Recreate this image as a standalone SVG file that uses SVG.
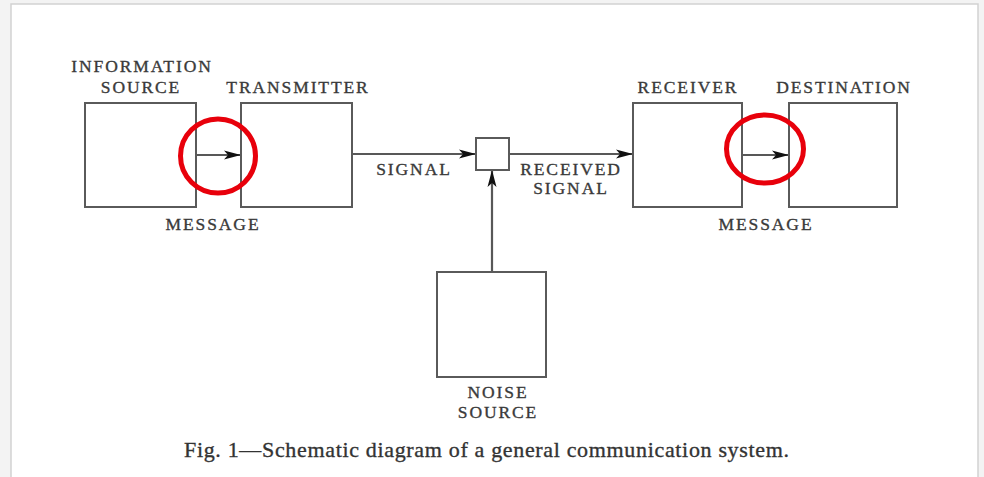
<svg xmlns="http://www.w3.org/2000/svg" width="984" height="477" viewBox="0 0 984 477">
<defs>
<style>
.box{fill:#fff;stroke:#5a5a5a;stroke-width:2}
.lbl{font-family:"Liberation Serif","Times New Roman",serif;font-size:17.5px;letter-spacing:1.9px;fill:#3a3a3a;stroke:#3a3a3a;stroke-width:0.35;text-anchor:middle}
.cap{font-family:"Liberation Serif","Times New Roman",serif;font-size:22px;fill:#333;stroke:#333;stroke-width:0.35}
.wire{stroke:#585858;stroke-width:2.2;fill:none;marker-end:url(#ah)}
.ring{fill:none;stroke:#e8000b;stroke-width:5}
</style>
<marker id="ah" markerUnits="userSpaceOnUse" markerWidth="18" markerHeight="12" refX="17" refY="6" orient="auto">
<path d="M0,1.5 L17,6 L0,10.5 L4,6 Z" fill="#111"/>
</marker>
</defs>
<rect x="0" y="0" width="984" height="477" fill="#f3f3f3"/>
<rect x="11" y="4" width="967" height="480" fill="#fff" stroke="#d2d2d2" stroke-width="1.5"/>

<g id="connectors">
<line class="wire" x1="196" y1="155" x2="241" y2="155"/>
<line class="wire" x1="352" y1="154" x2="476" y2="154"/>
<line class="wire" x1="509" y1="154" x2="633" y2="154"/>
<line class="wire" x1="742" y1="155" x2="789" y2="155"/>
<line class="wire" x1="492" y1="272" x2="492" y2="170"/>
<text class="lbl" x="213" y="230">MESSAGE</text>
<text class="lbl" x="414" y="175">SIGNAL</text>
<text class="lbl" x="571" y="175">RECEIVED</text>
<text class="lbl" x="571" y="194">SIGNAL</text>
<text class="lbl" x="766" y="230">MESSAGE</text>
</g>

<g id="information-source">
<rect class="box" x="85" y="103" width="111" height="104"/>
<text class="lbl" x="142" y="72">INFORMATION</text>
<text class="lbl" x="141" y="93">SOURCE</text>
</g>
<g id="transmitter">
<rect class="box" x="241" y="103" width="111" height="104"/>
<text class="lbl" x="298" y="93">TRANSMITTER</text>
</g>
<g id="mixer">
<rect class="box" x="476" y="138" width="33" height="32"/>
</g>
<g id="receiver">
<rect class="box" x="633" y="103" width="109" height="104"/>
<text class="lbl" x="688" y="93">RECEIVER</text>
</g>
<g id="destination">
<rect class="box" x="789" y="103" width="108" height="104"/>
<text class="lbl" x="844" y="93">DESTINATION</text>
</g>
<g id="noise-source">
<rect class="box" x="437" y="272" width="109" height="105"/>
<text class="lbl" x="498" y="398">NOISE</text>
<text class="lbl" x="498" y="418">SOURCE</text>
</g>

<g id="highlights">
<ellipse class="ring" cx="218" cy="156" rx="37.5" ry="37"/>
<ellipse class="ring" cx="765" cy="149" rx="38.5" ry="34"/>
</g>

<text class="cap" x="184" y="457" textLength="605" lengthAdjust="spacing">Fig. 1—Schematic diagram of a general communication system.</text>
</svg>
